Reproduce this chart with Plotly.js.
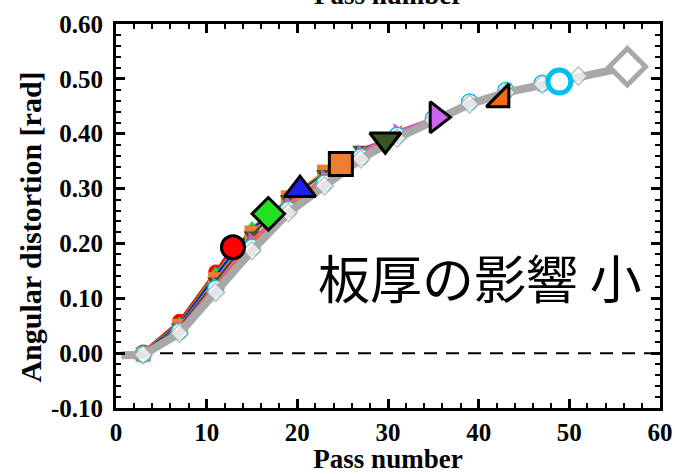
<!DOCTYPE html>
<html>
<head>
<meta charset="utf-8">
<script src="https://cdn.plot.ly/plotly-3.0.1.min.js"></script>
<style>
  html, body { margin: 0; padding: 0; background: #ffffff; }
  #chart { width: 675px; height: 474px; }
</style>
</head>
<body>
<div id="chart"></div>
<script>
// Angular distortion vs. pass number, one series per plate thickness.
// The last point of each series is the final pass (drawn with a large marker).

const redX = [3, 7, 11, 12.9];
const redY = [0.002, 0.058, 0.148, 0.193];

const greenX = [3, 7, 11, 15, 16.8];
const greenY = [0.001, 0.054, 0.145, 0.228, 0.254];

const blueX = [3, 7, 11, 15, 19, 20.3];
const blueY = [0.000, 0.052, 0.141, 0.226, 0.279, 0.298];

const orangeX = [3, 7, 11, 15, 19, 23, 24.8];
const orangeY = [-0.002, 0.049, 0.134, 0.219, 0.283, 0.330, 0.345];

const darkGreenX = [3, 7, 11, 15, 19, 23, 27, 29.7];
const darkGreenY = [-0.002, 0.047, 0.131, 0.215, 0.281, 0.327, 0.371, 0.389];

const purpleX = [3, 7, 11, 15, 19, 23, 27, 31, 35.4];
const purpleY = [-0.003, 0.044, 0.125, 0.206, 0.272, 0.321, 0.366, 0.405, 0.430];

const vermilionX = [3, 7, 11, 15, 19, 23, 27, 31, 35, 39, 42.5];
const vermilionY = [-0.003, 0.042, 0.121, 0.200, 0.266, 0.316, 0.361, 0.399, 0.428, 0.456, 0.463];

const cyanX = [3, 7, 11, 15, 19, 23, 27, 31, 35, 39, 43, 47, 48.9];
const cyanY = [-0.002, 0.040, 0.118, 0.193, 0.262, 0.310, 0.358, 0.397, 0.428, 0.458, 0.479, 0.492, 0.495];

const grayX = [0.6, 3, 7, 11, 15, 19, 23, 27, 31, 35, 39, 43, 47, 51, 56.4];
const grayY = [-0.004, -0.003, 0.036, 0.111, 0.187, 0.256, 0.305, 0.354, 0.392, 0.424, 0.454, 0.475, 0.490, 0.505, 0.522];

const xTickVals = [0, 10, 20, 30, 40, 50, 60];
const xTickText = ['0', '10', '20', '30', '40', '50', '60'];
const yTickVals = [-0.1, 0, 0.1, 0.2, 0.3, 0.4, 0.5, 0.6];
const yTickText = ['-0.10', '0.00', '0.10', '0.20', '0.30', '0.40', '0.50', '0.60'];

const xTitle = 'Pass number';
const yTitle = 'Angular distortion [rad]';
const noteText = '板厚の影響 小';

const serif = 'Liberation Serif, Times New Roman, serif';

function lineTrace(x, y, color, width, marker) {
  return {
    type: 'scatter', mode: 'lines+markers', x: x, y: y,
    line: { color: color, width: width },
    marker: marker, hoverinfo: 'skip', showlegend: false, cliponaxis: false
  };
}

function finalPoint(x, y, marker) {
  return {
    type: 'scatter', mode: 'markers',
    x: [x[x.length - 1]], y: [y[y.length - 1]],
    marker: marker, hoverinfo: 'skip', showlegend: false, cliponaxis: false
  };
}

const graySizes = grayX.map((v, i) => i === 0 ? 0 : 14);

const traces = [
  lineTrace(redX, redY, '#ff0000', 3, { symbol: 'circle', size: 15, color: '#ff0000' }),
  lineTrace(greenX, greenY, '#22dd22', 2.5, { symbol: 'triangle-up', size: 14, color: '#22dd22' }),
  lineTrace(blueX, blueY, '#1010ee', 2.5, { symbol: 'triangle-up', size: 9, color: '#1010ee' }),
  lineTrace(orangeX, orangeY, '#ed7d31', 2.5, { symbol: 'square', size: 15, color: '#ed7d31' }),
  lineTrace(darkGreenX, darkGreenY, '#375623', 2.5, { symbol: 'triangle-down', size: 15, color: '#375623' }),
  lineTrace(purpleX, purpleY, '#dd55cc', 2.5, { symbol: 'triangle-right', size: 14, color: '#dd55cc' }),
  lineTrace(vermilionX, vermilionY, '#f26b10', 2.5, { symbol: 'triangle-se', size: 16, color: '#f26b10' }),
  lineTrace(cyanX, cyanY, '#00bff0', 2.5, { symbol: 'circle', size: 16, color: '#ffffff', line: { color: '#00bff0', width: 1.5 } }),
  lineTrace(grayX, grayY, '#a8a8a8', 8, { symbol: 'diamond', size: graySizes, color: '#ffffff', line: { color: '#a8a8a8', width: 1.5 } }),

  finalPoint(redX, redY, { symbol: 'circle', size: 23, color: '#ff0000', line: { color: '#000000', width: 3 } }),
  finalPoint(greenX, greenY, { symbol: 'diamond', size: 25, color: '#22e022', line: { color: '#000000', width: 3 } }),
  finalPoint(blueX, blueY, { symbol: 'triangle-up', size: 27, color: '#2020ee', line: { color: '#000000', width: 3 } }),
  finalPoint(orangeX, orangeY, { symbol: 'square', size: 23, color: '#ed7d31', line: { color: '#000000', width: 3 } }),
  finalPoint(darkGreenX, darkGreenY, { symbol: 'triangle-down', size: 27, color: '#375623', line: { color: '#000000', width: 3 } }),
  finalPoint(purpleX, purpleY, { symbol: 'triangle-right', size: 27, color: '#cc66ee', line: { color: '#000000', width: 3 } }),
  finalPoint(vermilionX, vermilionY, { symbol: 'triangle-se', size: 25, color: '#f26b10', line: { color: '#000000', width: 3 } }),
  finalPoint(cyanX, cyanY, { symbol: 'circle', size: 23, color: '#ffffff', line: { color: '#00bff0', width: 5 } }),
  finalPoint(grayX, grayY, { symbol: 'diamond', size: 28, color: '#ffffff', line: { color: '#a8a8a8', width: 5 } })
];

const axisCommon = {
  showline: true, linecolor: '#000000', linewidth: 3, mirror: 'allticks',
  ticks: 'inside', ticklen: 9, tickwidth: 3, tickcolor: '#000000',
  showgrid: false, zeroline: false, automargin: false, tickmode: 'array',
  tickfont: { family: serif, size: 25, weight: 'bold', color: '#000000' }
};

const layout = {
  width: 675, height: 474,
  margin: { l: 116, r: 15, t: 24, b: 66 },
  paper_bgcolor: '#ffffff', plot_bgcolor: '#ffffff',
  showlegend: false,
  xaxis: Object.assign({}, axisCommon, {
    range: [0, 60], tickvals: xTickVals, ticktext: xTickText,
    ticklabelstandoff: 0,
    minor: { dtick: 2, tick0: 0, ticks: 'inside', ticklen: 5, tickwidth: 2, tickcolor: '#000000', showgrid: false },
    title: { text: xTitle, font: { family: serif, size: 27, weight: 'bold', color: '#000000' }, standoff: 10 }
  }),
  yaxis: Object.assign({}, axisCommon, {
    range: [-0.1, 0.6], tickvals: yTickVals, ticktext: yTickText,
    ticklabelstandoff: 5,
    minor: { dtick: 0.02, tick0: 0, ticks: 'inside', ticklen: 5, tickwidth: 2, tickcolor: '#000000', showgrid: false }
  }),
  shapes: [{
    type: 'line', xref: 'paper', x0: 0, x1: 1, yref: 'y', y0: 0, y1: 0,
    line: { color: '#000000', width: 2, dash: '13px,9px' }, layer: 'below'
  }],
  annotations: [
    {
      // vertical axis title
      text: yTitle, xref: 'paper', yref: 'paper', x: -0.158, y: 0.47,
      xanchor: 'center', yanchor: 'middle', textangle: -90, showarrow: false,
      font: { family: serif, size: 30, weight: 'bold', color: '#000000' }
    },
    {
      // mirrored axis title above the frame
      text: xTitle, xref: 'paper', yref: 'paper', x: 0.5, y: 1,
      xanchor: 'center', yanchor: 'bottom', yshift: 12, showarrow: false,
      font: { family: serif, size: 27, weight: 'bold', color: '#000000' }
    },
    {
      text: noteText, xref: 'x', yref: 'y', x: 40.2, y: 0.140,
      xanchor: 'center', yanchor: 'middle', showarrow: false,
      font: { family: 'Noto Sans CJK JP, Noto Sans CJK SC, sans-serif', size: 52, color: '#000000' }
    }
  ]
};

Plotly.newPlot('chart', traces, layout, { staticPlot: true, displayModeBar: false });
</script>
</body>
</html>
